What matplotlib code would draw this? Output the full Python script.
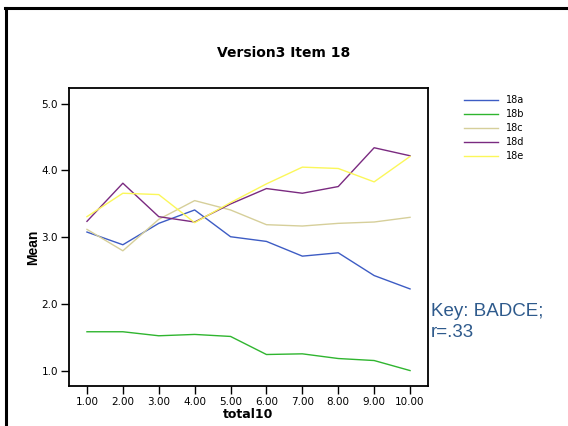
import matplotlib
matplotlib.use('Agg')
import matplotlib.pyplot as plt
from matplotlib.lines import Line2D
from matplotlib.ticker import FormatStrFormatter

plt.rcParams['font.family'] = ['DejaVu Sans']

# Mean score per total10 group
total10 = [1, 2, 3, 4, 5, 6, 7, 8, 9, 10]
item_18a = [3.08, 2.89, 3.21, 3.41, 3.01, 2.94, 2.72, 2.77, 2.43, 2.23]
item_18b = [1.59, 1.59, 1.53, 1.55, 1.52, 1.25, 1.26, 1.19, 1.16, 1.01]
item_18c = [3.12, 2.80, 3.27, 3.55, 3.41, 3.19, 3.17, 3.21, 3.23, 3.30]
item_18d = [3.24, 3.81, 3.31, 3.23, 3.50, 3.73, 3.66, 3.76, 4.34, 4.22]
item_18e = [3.31, 3.66, 3.64, 3.22, 3.52, 3.80, 4.05, 4.03, 3.83, 4.21]

series = {
    '18a': (item_18a, '#3d5cc4'),
    '18b': (item_18b, '#2fb52f'),
    '18c': (item_18c, '#d6cf9a'),
    '18d': (item_18d, '#7a2a80'),
    '18e': (item_18e, '#fbf75a'),
}

fig = plt.figure(figsize=(5.68, 4.26), dpi=100)
ax = fig.add_axes([0.1215, 0.094, 0.632, 0.699])

for name, (vals, col) in series.items():
    ax.plot(total10, vals, color=col, lw=1.0, label=name)

ax.set_xlim(0.5, 10.5)
ax.set_ylim(0.78, 5.23)
ax.set_xticks(total10)
ax.set_yticks([1, 2, 3, 4, 5])
ax.xaxis.set_major_formatter(FormatStrFormatter('%.2f'))
ax.yaxis.set_major_formatter(FormatStrFormatter('%.1f'))
ax.tick_params(direction='out', length=6, width=1, labelsize=7.5, pad=2)
for s in ax.spines.values():
    s.set_linewidth(1.3)

ax.set_xlabel('total10', fontsize=9, fontweight='bold', labelpad=1)
ax.set_ylabel('Mean', fontsize=10, fontweight='bold', labelpad=1,
              family='Liberation Sans', y=0.466)
fig.text(0.5, 0.876, 'Version3 Item 18', ha='center', va='center',
         fontsize=10, fontweight='bold')

handles = [Line2D([], [], color=c, lw=1.0) for _, c in series.values()]
fig.legend(handles, list(series.keys()), loc='upper left',
           bbox_to_anchor=(0.817, 0.776), frameon=False, fontsize=7,
           handlelength=3.5, handletextpad=0.8, labelspacing=0.4,
           borderaxespad=0, borderpad=0)

fig.text(0.758, 0.2, 'Key: BADCE;\nr=.33', ha='left', va='bottom',
         fontsize=13.5, color='#2e5a8c', linespacing=1.26,
         family='Liberation Sans')

# slide frame on left and top
fig.add_artist(Line2D([0.011, 0.011], [0, 0.982], color='black', lw=2.2))
fig.add_artist(Line2D([0.009, 1.0], [0.982, 0.982], color='black', lw=2.2))

fig.savefig('out.png', dpi=100)
